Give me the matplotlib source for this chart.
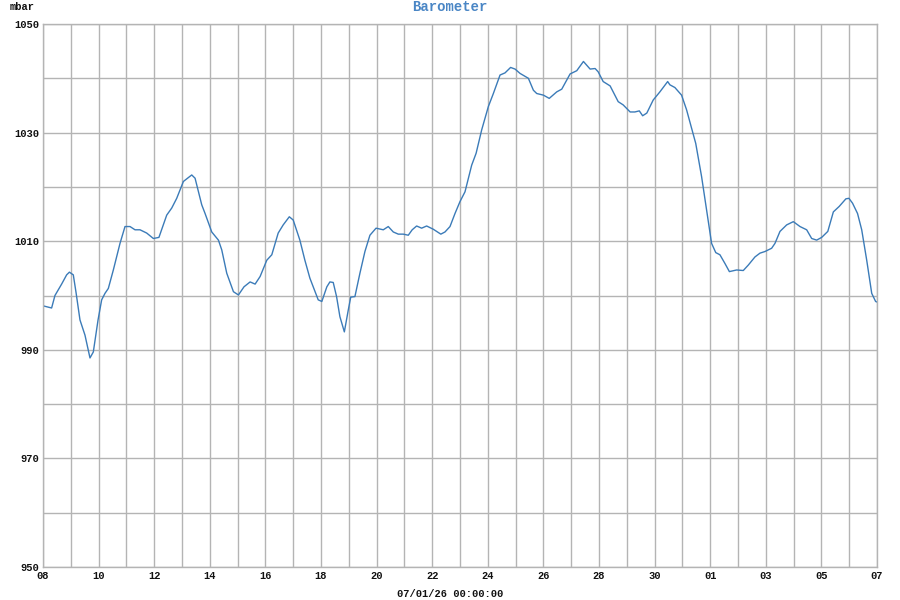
import matplotlib
matplotlib.use("Agg")
import matplotlib.pyplot as plt

# Data: days since 08 Dec, pressure in mbar
days = [0.00, 0.31, 0.43, 0.67, 0.85, 0.95, 1.09, 1.19, 1.33, 1.51, 1.69, 1.81, 1.98,
        2.11, 2.23, 2.35, 2.53, 2.77, 2.95, 3.13, 3.31, 3.49, 3.73, 3.97, 4.17, 4.45,
        4.63, 4.81, 5.05, 5.35, 5.47, 5.71, 5.83, 6.07, 6.31, 6.43, 6.61, 6.85, 7.03,
        7.23, 7.45, 7.63, 7.81, 8.05, 8.23, 8.46, 8.64, 8.86, 9.00, 9.24, 9.42, 9.60,
        9.72, 9.90, 10.03, 10.21, 10.32, 10.44, 10.56, 10.68, 10.84, 10.98, 11.07,
        11.22, 11.40, 11.58, 11.76, 11.98, 12.24, 12.42, 12.60, 12.78, 12.96, 13.14,
        13.28, 13.44, 13.62, 13.80, 14.04, 14.31, 14.46, 14.64, 14.82, 15.00, 15.18,
        15.42, 15.58, 15.78, 16.02, 16.20, 16.44, 16.62, 16.82, 16.98, 17.16, 17.46,
        17.64, 17.76, 18.00, 18.21, 18.48, 18.66, 18.96, 19.20, 19.44, 19.68, 19.86,
        19.97, 20.15, 20.40, 20.69, 20.87, 21.12, 21.29, 21.45, 21.57, 21.72, 21.95,
        22.19, 22.47, 22.55, 22.73, 22.97, 23.15, 23.33, 23.48, 23.69, 23.87, 24.05,
        24.20, 24.35, 24.53, 24.69, 24.95, 25.19, 25.37, 25.61, 25.79, 25.97, 26.21,
        26.33, 26.51, 26.75, 26.99, 27.23, 27.47, 27.65, 27.83, 28.01, 28.23, 28.43,
        28.64, 28.88, 28.99, 29.12, 29.30, 29.45, 29.63, 29.81, 29.95, 30.00]
pressure = [998.1, 997.7, 1000.0, 1002.1, 1003.8, 1004.3, 1003.8, 1000.5, 995.5, 992.7,
            988.5, 989.6, 995.5, 999.2, 1000.4, 1001.3, 1004.7, 1009.6, 1012.7, 1012.7,
            1012.1, 1012.1, 1011.5, 1010.5, 1010.7, 1014.8, 1016.1, 1017.9, 1021.0,
            1022.2, 1021.6, 1016.7, 1015.1, 1011.7, 1010.2, 1008.4, 1004.1, 1000.7,
            1000.1, 1001.6, 1002.5, 1002.1, 1003.5, 1006.5, 1007.5, 1011.5, 1013.0,
            1014.5, 1013.9, 1010.2, 1006.5, 1003.2, 1001.6, 999.2, 998.9, 1001.6,
            1002.5, 1002.4, 999.8, 996.1, 993.3, 997.3, 999.7, 999.8, 1004.1, 1008.1,
            1011.1, 1012.4, 1012.1, 1012.7, 1011.7, 1011.3, 1011.3, 1011.1, 1012.1,
            1012.8, 1012.4, 1012.8, 1012.2, 1011.3, 1011.7, 1012.7, 1015.1, 1017.3,
            1019.1, 1024.0, 1026.2, 1030.5, 1034.8, 1037.2, 1040.6, 1041.0, 1042.0,
            1041.7, 1040.9, 1040.0, 1037.8, 1037.2, 1036.9, 1036.3, 1037.5, 1038.0,
            1040.8, 1041.4, 1043.1, 1041.7, 1041.8, 1041.2, 1039.4, 1038.6, 1035.7,
            1035.1, 1033.8, 1033.8, 1034.0, 1033.1, 1033.6, 1036.0, 1037.5, 1039.4,
            1038.8, 1038.3, 1036.9, 1034.2, 1030.8, 1028.0, 1021.9, 1015.7, 1009.6,
            1007.9, 1007.5, 1005.9, 1004.4, 1004.7, 1004.6, 1005.6, 1007.1, 1007.8,
            1008.1, 1008.7, 1009.6, 1011.8, 1013.0, 1013.6, 1012.7, 1012.1, 1010.5,
            1010.2, 1010.7, 1011.8, 1015.4, 1016.4, 1017.8, 1017.9, 1017.0, 1015.1,
            1012.1, 1006.5, 1000.4, 998.9, 998.8]

x_tick_labels = ["08", "10", "12", "14", "16", "18", "20", "22", "24", "26",
                 "28", "30", "01", "03", "05", "07"]
y_tick_labels = ["950", "970", "990", "1010", "1030", "1050"]
title = "Barometer"
y_unit = "mbar"
x_caption = "07/01/26 00:00:00"

mono = "Liberation Mono"
grid_col = "#b4b4b4"
line_col = "#3b7bb8"

fig = plt.figure(figsize=(9, 6), dpi=100)
ax = fig.add_axes([43 / 900, 1 - 567 / 600, (877 - 43) / 900, (567 - 24) / 600])

ax.plot(days, pressure, color=line_col, linewidth=1.0)

ax.set_xlim(0, 30)
ax.set_ylim(950, 1050)

# grid every day / every 10 mbar
xt = list(range(0, 31))
ax.set_xticks(xt)
xl = []
k = 0
for d in xt:
    if d % 2 == 0:
        xl.append(x_tick_labels[k]); k += 1
    else:
        xl.append("")
ax.set_xticklabels(xl)
yt = list(range(950, 1051, 10))
ax.set_yticks(yt)
yl = []
k = 0
for v in yt:
    if (v - 950) % 20 == 0:
        yl.append(y_tick_labels[k]); k += 1
    else:
        yl.append("")
ax.set_yticklabels(yl)

ax.grid(True, color=grid_col, linewidth=1.0)
ax.set_axisbelow(True)
ax.tick_params(length=0, pad=3, labelsize=7.5, labelcolor="#111111")
for lab in ax.get_xticklabels() + ax.get_yticklabels():
    lab.set_fontfamily(mono)
    lab.set_fontweight("bold")
for s in ax.spines.values():
    s.set_color(grid_col)
    s.set_linewidth(1.0)

fig.text(0.5, 1 - 7 / 600, title, ha="center", va="center", color="#4a86c5",
         fontsize=10, fontfamily=mono, fontweight="bold")
fig.text(10 / 900, 1 - 7 / 600, y_unit, ha="left", va="center", color="#111111",
         fontsize=7.5, fontfamily=mono, fontweight="bold")
fig.text(0.5, 1 - 594 / 600, x_caption, ha="center", va="center", color="#111111",
         fontsize=7.5, fontfamily=mono, fontweight="bold")

fig.savefig("out.png", dpi=100)
